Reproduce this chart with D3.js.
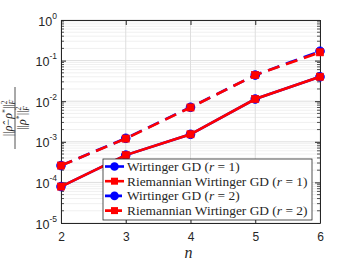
<!DOCTYPE html>
<html>
<head>
<meta charset="utf-8">
<script src="https://cdn.jsdelivr.net/npm/d3@7"></script>
<style>
  body { margin: 0; background: #fff; }
  svg { display: block; }
  .tick text { font-family: "Liberation Sans", Arial, sans-serif; font-size: 12px; fill: #262626; }
</style>
</head>
<body>
<svg id="chart" width="354" height="266"></svg>
<script>
var nValues = [2, 3, 4, 5, 6];
var wirtR1 = [7.9e-5, 4.7e-4, 1.53e-3, 1.13e-2, 4.0e-2];
var riemR1 = [7.9e-5, 4.7e-4, 1.53e-3, 1.13e-2, 4.0e-2];
var wirtR2 = [2.6e-4, 1.22e-3, 7.1e-3, 4.4e-2, 0.17];
var riemR2 = [2.6e-4, 1.2e-3, 7.0e-3, 4.4e-2, 0.16];
var yTicks = [1e-5, 1e-4, 1e-3, 1e-2, 1e-1, 1];
var yTickExp = ["-5", "-4", "-3", "-2", "-1", "0"];

var series = [
  { name: "Wirtinger GD", r: 1, values: wirtR1, color: "#0000ff", dash: null, marker: "circle" },
  { name: "Riemannian Wirtinger GD", r: 1, values: riemR1, color: "#ff0000", dash: null, marker: "square" },
  { name: "Wirtinger GD", r: 2, values: wirtR2, color: "#0000ff", dash: "12,7", marker: "circle" },
  { name: "Riemannian Wirtinger GD", r: 2, values: riemR2, color: "#ff0000", dash: "12,7", marker: "square" }
];

var margin = { top: 20, right: 34, bottom: 43, left: 61 },
    width = 354 - margin.left - margin.right,
    height = 266 - margin.top - margin.bottom;

var x = d3.scaleLinear().domain([2, 6]).range([0, width]);
var y = d3.scaleLog().domain([1e-5, 1]).range([height, 0]);

var svg = d3.select("#chart");
var g = svg.append("g")
    .attr("transform", "translate(" + margin.left + "," + margin.top + ")");

// minor grid
var minor = [];
for (var e = -5; e < 0; e++) {
  for (var k = 2; k <= 9; k++) minor.push(k * Math.pow(10, e));
}
g.append("g").selectAll("line").data(minor).enter().append("line")
    .attr("x1", 0).attr("x2", width)
    .attr("y1", function(d) { return y(d); }).attr("y2", function(d) { return y(d); })
    .attr("stroke", "#f0f0f0").attr("stroke-width", 1);

// major grid
g.append("g").selectAll("line").data(yTicks).enter().append("line")
    .attr("x1", 0).attr("x2", width)
    .attr("y1", function(d) { return y(d); }).attr("y2", function(d) { return y(d); })
    .attr("stroke", "#dedede").attr("stroke-width", 1);
g.append("g").selectAll("line").data(nValues).enter().append("line")
    .attr("y1", 0).attr("y2", height)
    .attr("x1", function(d) { return x(d); }).attr("x2", function(d) { return x(d); })
    .attr("stroke", "#dedede").attr("stroke-width", 1);

// axes
var xAxis = g.append("g")
    .attr("transform", "translate(0," + height + ")")
    .call(d3.axisBottom(x).tickValues(nValues).tickFormat(d3.format("d")).tickSizeInner(-5).tickSizeOuter(0).tickPadding(9));
xAxis.select(".domain").attr("stroke", "#262626");
xAxis.selectAll(".tick line").attr("stroke", "#262626");

g.append("g")
    .call(d3.axisTop(x).tickValues(nValues).tickFormat("").tickSizeInner(-5).tickSizeOuter(0))
    .call(function(s) { s.select(".domain").attr("stroke", "#262626"); s.selectAll("line").attr("stroke", "#262626"); });

var yAxis = g.append("g")
    .call(d3.axisLeft(y).tickValues(yTicks).tickFormat("").tickSizeInner(-5).tickSizeOuter(0));
yAxis.select(".domain").attr("stroke", "#262626");
yAxis.selectAll(".tick line").attr("stroke", "#262626");
yAxis.selectAll(".tick text").remove();
yAxis.selectAll(".tick").each(function(d, i) {
  var t = d3.select(this).append("text")
      .attr("x", -4).attr("y", 5).attr("text-anchor", "end")
      .style("font-family", "Liberation Sans, Arial, sans-serif")
      .style("fill", "#262626");
  t.append("tspan").style("font-size", "12.5px").text("10");
  t.append("tspan").style("font-size", "8.5px").attr("dy", -7).text(yTickExp[i]);
});

g.append("g")
    .attr("transform", "translate(" + width + ",0)")
    .call(d3.axisRight(y).tickValues(yTicks).tickFormat("").tickSizeInner(-5).tickSizeOuter(0))
    .call(function(s) { s.select(".domain").attr("stroke", "#262626"); s.selectAll("line").attr("stroke", "#262626"); });

// minor ticks left and right
[0, width].forEach(function(xx) {
  g.append("g").selectAll("line").data(minor).enter().append("line")
      .attr("x1", xx).attr("x2", xx === 0 ? 3 : width - 3)
      .attr("y1", function(d) { return y(d); }).attr("y2", function(d) { return y(d); })
      .attr("stroke", "#262626").attr("stroke-width", 0.8);
});

// lines and markers
var line = d3.line()
    .x(function(d, i) { return x(nValues[i]); })
    .y(function(d) { return y(d); });

series.forEach(function(s) {
  g.append("path")
      .datum(s.values)
      .attr("fill", "none")
      .attr("stroke", s.color)
      .attr("stroke-width", 2.6)
      .attr("stroke-dasharray", s.dash)
      .attr("d", line);
  var m = g.append("g").selectAll(".m").data(s.values).enter();
  if (s.marker === "circle") {
    m.append("circle")
        .attr("cx", function(d, i) { return x(nValues[i]); })
        .attr("cy", function(d) { return y(d); })
        .attr("r", 4.3)
        .attr("fill", s.color).attr("stroke", s.color);
  } else {
    m.append("rect")
        .attr("x", function(d, i) { return x(nValues[i]) - 3.6; })
        .attr("y", function(d) { return y(d) - 3.6; })
        .attr("width", 7.2).attr("height", 7.2)
        .attr("fill", s.color).attr("stroke", s.color).attr("stroke-width", 0.6);
  }
});

// x label
svg.append("text")
    .attr("x", margin.left + width / 2 - 2).attr("y", 258)
    .attr("text-anchor", "middle")
    .style("font-family", "Liberation Serif, Times New Roman, serif")
    .style("font-style", "italic").style("font-size", "16px")
    .style("fill", "#262626")
    .text("n");

// y label (fraction)
var yl = svg.append("g").attr("transform", "translate(15,118) rotate(-90)")
    .style("font-family", "Liberation Serif, Times New Roman, serif")
    .style("fill", "#262626");
yl.append("line").attr("x1", -31).attr("x2", 31).attr("y1", 0).attr("y2", 0)
    .attr("stroke", "#262626").attr("stroke-width", 0.8);
var num = yl.append("text").attr("x", 0).attr("y", -3.5).attr("text-anchor", "middle").style("font-size", "12px");
num.append("tspan").text("||");
num.append("tspan").style("font-style", "italic").text("\u03c1\u0302");
num.append("tspan").text("\u2212");
num.append("tspan").style("font-style", "italic").text("\u03c1");
num.append("tspan").style("font-size", "8px").attr("dy", -4).text("*");
num.append("tspan").attr("dy", 4).text("||");
num.append("tspan").style("font-size", "7.5px").attr("dy", -5).text("2");
num.append("tspan").style("font-size", "7.5px").style("font-style", "italic").attr("dx", -4).attr("dy", 8).text("F");
var den = yl.append("text").attr("x", 0).attr("y", 11).attr("text-anchor", "middle").style("font-size", "12px");
den.append("tspan").text("||");
den.append("tspan").style("font-style", "italic").text("\u03c1");
den.append("tspan").style("font-size", "8px").attr("dy", -4).text("*");
den.append("tspan").attr("dy", 4).text("||");
den.append("tspan").style("font-size", "7.5px").attr("dy", -5).text("2");
den.append("tspan").style("font-size", "7.5px").style("font-style", "italic").attr("dx", -4).attr("dy", 8).text("F");

// legend
var lg = svg.append("g").attr("transform", "translate(103,159)");
lg.append("rect").attr("width", 209).attr("height", 61)
    .attr("fill", "#fff").attr("stroke", "#262626").attr("stroke-width", 0.8);
series.forEach(function(s, i) {
  var yy = 7.5 + i * 14.7;
  var row = lg.append("g").attr("transform", "translate(0," + yy + ")");
  row.append("line").attr("x1", 2).attr("x2", 21).attr("y1", 0).attr("y2", 0)
      .attr("stroke", s.color).attr("stroke-width", 2.6).attr("stroke-dasharray", s.dash ? "7,3" : null);
  if (s.marker === "circle") {
    row.append("circle").attr("cx", 11.5).attr("cy", 0).attr("r", 4.3).attr("fill", s.color);
  } else {
    row.append("rect").attr("x", 8).attr("y", -3.5).attr("width", 7).attr("height", 7).attr("fill", s.color);
  }
  var t = row.append("text").attr("x", 24).attr("y", 4.5)
      .style("font-family", "Liberation Serif, Times New Roman, serif")
      .style("font-size", "13.4px").style("fill", "#262626");
  t.append("tspan").text(s.name + " (");
  t.append("tspan").style("font-style", "italic").text("r");
  t.append("tspan").text(" = " + s.r + ")");
});
</script>
</body>
</html>
